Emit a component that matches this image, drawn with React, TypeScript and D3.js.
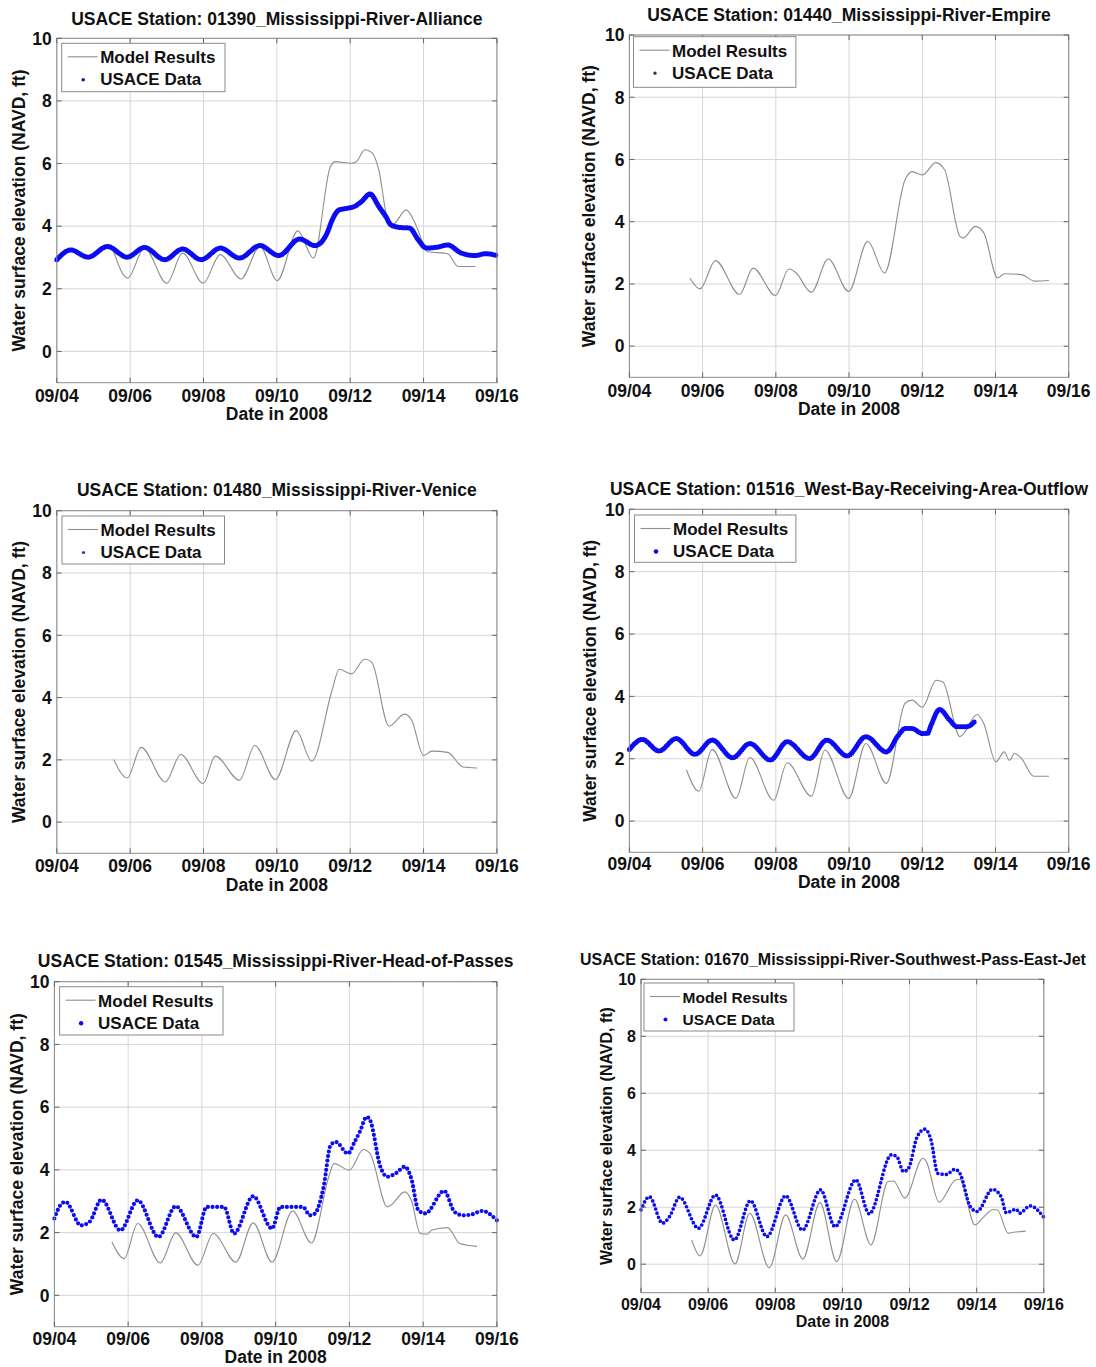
import React from 'react';
import * as d3 from 'd3';

type Pt = [number, number]; // [days after 09/04 00:00, water level ft NAVD]

// 01390 Alliance
const allianceModel: Pt[] = [
  [1.55, 3.19], [1.93, 2.34], [2.39, 3.3], [3.0, 2.18], [3.43, 3.14], [3.99, 2.18], [4.46, 3.09],
  [5.02, 2.31], [5.54, 3.35], [6.01, 2.26], [6.57, 3.85], [7.0, 2.98], [7.46, 5.9], [7.6, 6.06],
  [8.03, 6.01], [8.17, 6.06], [8.4, 6.44], [8.59, 6.35], [8.78, 5.8], [9.01, 4.26], [9.15, 4.04],
  [9.53, 4.52], [9.81, 3.99], [10.1, 3.19], [10.66, 3.12], [10.94, 2.71], [11.41, 2.71],
];
const allianceObs: Pt[] = [
  [0, 2.93], [0.38, 3.24], [0.85, 3.01], [1.38, 3.35], [1.92, 3.01], [2.39, 3.32], [2.94, 2.93],
  [3.43, 3.27], [3.94, 2.93], [4.46, 3.3], [4.98, 2.98], [5.54, 3.38], [6.05, 3.06], [6.62, 3.59],
  [7.04, 3.38], [7.37, 3.78], [7.51, 4.2], [7.7, 4.52], [7.93, 4.57], [8.12, 4.63], [8.31, 4.79],
  [8.54, 5.03], [8.78, 4.63], [8.97, 4.31], [9.11, 4.04], [9.34, 3.96], [9.62, 3.94], [9.86, 3.56],
  [10.08, 3.3], [10.38, 3.33], [10.66, 3.4], [11.03, 3.14], [11.41, 3.06], [11.69, 3.12], [12, 3.06],
];

// 01440 Empire
const empireModel: Pt[] = [
  [1.65, 2.19], [1.93, 1.84], [2.35, 2.75], [3.01, 1.66], [3.38, 2.51], [3.99, 1.63], [4.36, 2.48],
  [4.55, 2.36], [4.97, 1.73], [5.43, 2.8], [5.99, 1.76], [6.51, 3.37], [6.97, 2.35], [7.53, 5.35],
  [7.72, 5.61], [8.0, 5.5], [8.37, 5.9], [8.61, 5.67], [9.03, 3.53], [9.12, 3.48], [9.45, 3.85],
  [9.68, 3.64], [10.06, 2.19], [10.24, 2.33], [10.71, 2.3], [11.08, 2.09], [11.46, 2.11],
];

// 01480 Venice
const veniceModel: Pt[] = [
  [1.55, 2.01], [1.92, 1.42], [2.3, 2.4], [2.96, 1.29], [3.38, 2.17], [3.99, 1.24], [4.32, 2.12],
  [4.98, 1.35], [5.4, 2.46], [5.96, 1.37], [6.53, 2.94], [6.95, 1.96], [7.51, 4.25], [7.7, 4.91],
  [8.03, 4.76], [8.4, 5.24], [8.59, 5.13], [9.06, 3.08], [9.48, 3.47], [9.67, 3.29], [10.0, 2.14],
  [10.23, 2.28], [10.66, 2.24], [11.08, 1.77], [11.46, 1.74],
];

// 01516 West Bay Receiving Area Outflow
const westBayModel: Pt[] = [
  [1.56, 1.64], [1.89, 0.96], [2.26, 2.3], [2.91, 0.73], [3.29, 2.04], [3.94, 0.67], [4.31, 1.87],
  [4.97, 0.8], [5.34, 2.28], [5.99, 0.73], [6.46, 2.49], [7.02, 1.21], [7.53, 3.78], [7.72, 3.88],
  [8.0, 3.65], [8.38, 4.52], [8.56, 4.47], [9.03, 2.71], [9.5, 3.42], [9.68, 3.13], [10.01, 1.9],
  [10.24, 2.22], [10.38, 1.95], [10.52, 2.17], [10.71, 2.01], [11.04, 1.44], [11.46, 1.44],
];
const westBayObs: Pt[] = [
  [0, 2.3], [0.35, 2.62], [0.81, 2.25], [1.28, 2.65], [1.79, 2.14], [2.26, 2.6], [2.82, 2.03],
  [3.29, 2.49], [3.85, 1.96], [4.31, 2.55], [4.92, 2.01], [5.39, 2.6], [5.95, 2.09], [6.46, 2.71],
  [7.02, 2.22], [7.35, 2.76], [7.53, 2.97], [7.72, 2.97], [8.0, 2.81], [8.14, 2.81], [8.24, 3.08],
  [8.47, 3.58], [8.75, 3.24], [8.94, 3.03], [9.22, 3.03], [9.45, 3.22],
];

// 01545 Head of Passes
const headPassesModel: Pt[] = [
  [1.56, 1.7], [1.89, 1.17], [2.26, 2.29], [2.87, 1.03], [3.29, 1.99], [3.89, 0.96], [4.31, 1.97],
  [4.92, 1.06], [5.39, 2.31], [5.9, 1.06], [6.46, 2.69], [6.97, 1.67], [7.44, 3.78], [7.58, 4.2],
  [8.0, 3.99], [8.38, 4.65], [8.56, 4.52], [9.03, 2.82], [9.12, 2.87], [9.5, 3.3], [9.68, 3.03],
  [9.92, 1.97], [10.1, 1.95], [10.24, 2.08], [10.66, 2.16], [11.0, 1.65], [11.46, 1.56],
];
const headPassesObs: Pt[] = [
  [0, 2.45], [0.16, 2.87], [0.3, 2.98], [0.72, 2.23], [0.95, 2.34], [1.28, 3.05], [1.79, 2.07],
  [2.26, 3.03], [2.82, 1.86], [3.29, 2.84], [3.85, 1.86], [4.13, 2.82], [4.6, 2.82], [4.87, 1.97],
  [5.39, 3.16], [5.9, 2.13], [6.13, 2.82], [6.74, 2.82], [6.93, 2.55], [7.06, 2.6], [7.3, 3.46],
  [7.49, 4.79], [7.63, 4.89], [7.96, 4.52], [8.14, 4.89], [8.28, 5.21], [8.47, 5.69], [8.56, 5.59],
  [8.84, 4.1], [9.03, 3.78], [9.27, 3.9], [9.5, 4.1], [9.68, 3.72], [9.87, 2.71], [10.06, 2.61],
  [10.57, 3.33], [10.85, 2.66], [11.08, 2.55], [11.32, 2.58], [11.6, 2.69], [12, 2.39],
];

// 01670 Southwest Pass East Jetty
const swPassModel: Pt[] = [
  [1.51, 0.85], [1.76, 0.29], [2.22, 2.08], [2.8, 0.01], [3.24, 1.79], [3.82, -0.12], [4.31, 1.73],
  [4.82, 0.18], [5.33, 2.16], [5.83, 0.09], [6.36, 2.29], [6.85, 0.68], [7.36, 2.9], [7.52, 2.92],
  [7.86, 2.32], [8.4, 3.72], [8.5, 3.6], [8.88, 2.18], [9.35, 2.94], [9.5, 2.98], [9.95, 1.38],
  [10.22, 1.67], [10.5, 1.92], [10.62, 1.9], [10.94, 1.09], [11.1, 1.12], [11.46, 1.16],
];
const swPassObs: Pt[] = [
  [0, 1.91], [0.25, 2.37], [0.64, 1.44], [0.85, 1.67], [1.15, 2.35], [1.71, 1.26], [2.22, 2.43],
  [2.78, 0.85], [3.26, 2.23], [3.75, 0.97], [4.31, 2.4], [4.81, 1.2], [5.35, 2.61], [5.78, 1.32],
  [6.4, 2.96], [6.8, 1.77], [7.46, 3.84], [7.62, 3.78], [7.82, 3.25], [7.97, 3.37], [8.23, 4.48],
  [8.46, 4.74], [8.64, 4.36], [8.84, 3.19], [9.09, 3.15], [9.35, 3.33], [9.5, 3.19], [9.81, 2.02],
  [10.01, 1.85], [10.47, 2.63], [10.73, 2.37], [10.88, 1.81], [11.18, 1.93], [11.28, 1.79],
  [11.59, 2.05], [12, 1.65],
];

const stationTitles = [
  'USACE Station: 01390_Mississippi-River-Alliance',
  'USACE Station: 01440_Mississippi-River-Empire',
  'USACE Station: 01480_Mississippi-River-Venice',
  'USACE Station: 01516_West-Bay-Receiving-Area-Outflow',
  'USACE Station: 01545_Mississippi-River-Head-of-Passes',
  'USACE Station: 01670_Mississippi-River-Southwest-Pass-East-Jet',
];
const legendLabels = ['Model Results', 'USACE Data'];
const xTitle = 'Date in 2008';
const yTitle = 'Water surface elevation (NAVD, ft)';
const yTickValues = [0, 2, 4, 6, 8, 10];
const startDate = new Date(2008, 8, 4);
const endDate = new Date(2008, 8, 16);

const FONT = '"Liberation Sans", Arial, Helvetica, sans-serif';
const BLUE = '#0c0cf2';
const GRAY = '#8e8e8e';

interface Panel {
  title: string;
  model: Pt[];
  obs: Pt[] | null;
  left: number; right: number; top: number; bottom: number;
  titleY: number; titleX?: number;
  tickY: number; xLabelY: number; yLabelX: number;
  legend: [number, number, number, number];
  font: number; legendFont: number;
  dot: { w: number; gap: number };
  legendDot: string; legendDotR: number;
}

const panels: Panel[] = [
  { title: stationTitles[0], model: allianceModel, obs: allianceObs,
    left: 56.8, right: 496.9, top: 38.3, bottom: 382.7, titleY: 25, tickY: 402, xLabelY: 420, yLabelX: 25,
    legend: [61.7, 43.3, 163.3, 48.4], font: 17.5, legendFont: 17, dot: { w: 5, gap: 1.4 },
    legendDot: '#1b1b8a', legendDotR: 1.8 },
  { title: stationTitles[1], model: empireModel, obs: null,
    left: 629.4, right: 1068.7, top: 35, bottom: 377.3, titleY: 20.7, tickY: 396.7, xLabelY: 415, yLabelX: 595,
    legend: [633.5, 36.7, 162.4, 50.6], font: 17.5, legendFont: 17, dot: { w: 4, gap: 4 },
    legendDot: '#333', legendDotR: 1.6 },
  { title: stationTitles[2], model: veniceModel, obs: null,
    left: 56.8, right: 496.9, top: 510.7, bottom: 853.3, titleY: 496, tickY: 872.3, xLabelY: 890.7, yLabelX: 25,
    legend: [62, 516, 162.5, 48], font: 17.5, legendFont: 17, dot: { w: 4, gap: 4 },
    legendDot: '#3030c0', legendDotR: 1.6 },
  { title: stationTitles[3], model: westBayModel, obs: westBayObs,
    left: 629.4, right: 1068.7, top: 509.3, bottom: 852.3, titleY: 495, tickY: 870, xLabelY: 888.3, yLabelX: 596,
    legend: [634.5, 515, 161.4, 47.3], font: 17.5, legendFont: 17, dot: { w: 5, gap: 2.2 },
    legendDot: BLUE, legendDotR: 2.3 },
  { title: stationTitles[4], model: headPassesModel, obs: headPassesObs,
    left: 54.4, right: 496.9, top: 981.7, bottom: 1326.7, titleY: 966.7, tickY: 1344.5, xLabelY: 1363.2, yLabelX: 23,
    legend: [59.6, 986.7, 163.4, 48.3], font: 17.5, legendFont: 17, dot: { w: 4.2, gap: 4.6 },
    legendDot: BLUE, legendDotR: 2.2 },
  { title: stationTitles[5], model: swPassModel, obs: swPassObs,
    left: 641, right: 1043.8, top: 979.3, bottom: 1292.7, titleY: 965, titleX: 580, tickY: 1310, xLabelY: 1326.7, yLabelX: 612,
    legend: [644, 983, 150, 48], font: 16, legendFont: 15.5, dot: { w: 3.7, gap: 4.3 },
    legendDot: BLUE, legendDotR: 2 },
];

const dayToDate = (d: number) => d3.timeMinute.offset(startDate, Math.round(d * 1440));
const fmt = d3.timeFormat('%m/%d');

const StationPanel: React.FC<{ p: Panel }> = ({ p }) => {
  const x = d3.scaleTime().domain([startDate, endDate]).range([p.left, p.right]);
  const y = d3.scaleLinear().domain([-1, 10]).range([p.bottom, p.top]);
  const xTicks = d3.timeDay.range(startDate, d3.timeDay.offset(endDate, 1), 2);
  const line = d3.line<Pt>()
    .x(d => x(dayToDate(d[0])))
    .y(d => y(d[1]))
    .curve(d3.curveMonotoneX);
  const cx = (p.left + p.right) / 2;
  const cy = (p.top + p.bottom) / 2;
  const [lx, ly, lw, lh] = p.legend;
  const tickLen = 5;

  return (
    <g fontFamily={FONT} fontWeight="bold" fill="#111">
      {/* grid */}
      {xTicks.map((t, i) => (
        <line key={'gx' + i} x1={x(t)} x2={x(t)} y1={p.top} y2={p.bottom} stroke="#d6d6d6" strokeWidth={1} />
      ))}
      {yTickValues.map(v => (
        <line key={'gy' + v} x1={p.left} x2={p.right} y1={y(v)} y2={y(v)} stroke="#d6d6d6" strokeWidth={1} />
      ))}

      {/* series */}
      <path d={line(p.model) || ''} fill="none" stroke={GRAY} strokeWidth={1.1} />
      {p.obs && (
        <path d={line(p.obs) || ''} fill="none" stroke={BLUE} strokeWidth={p.dot.w}
          strokeLinecap="round" strokeDasharray={`0 ${p.dot.gap}`} />
      )}

      {/* box and inward ticks */}
      <rect x={p.left} y={p.top} width={p.right - p.left} height={p.bottom - p.top} fill="none" stroke="#8a8a8a" strokeWidth={1} />
      {xTicks.map((t, i) => (
        <g key={'tx' + i} stroke="#666">
          <line x1={x(t)} x2={x(t)} y1={p.bottom} y2={p.bottom - tickLen} />
          <line x1={x(t)} x2={x(t)} y1={p.top} y2={p.top + tickLen} />
        </g>
      ))}
      {yTickValues.map(v => (
        <g key={'ty' + v} stroke="#666">
          <line x1={p.left} x2={p.left + tickLen} y1={y(v)} y2={y(v)} />
          <line x1={p.right} x2={p.right - tickLen} y1={y(v)} y2={y(v)} />
        </g>
      ))}

      {/* tick labels */}
      {xTicks.map((t, i) => (
        <text key={'lx' + i} x={x(t)} y={p.tickY} textAnchor="middle" fontSize={p.font}>{fmt(t)}</text>
      ))}
      {yTickValues.map(v => (
        <text key={'ly' + v} x={p.left - 5} y={y(v)} dy="0.36em" textAnchor="end" fontSize={p.font}>{v}</text>
      ))}

      {/* titles */}
      <text x={p.titleX ?? cx} y={p.titleY} textAnchor={p.titleX ? 'start' : 'middle'} fontSize={p.font}>{p.title}</text>
      <text x={cx} y={p.xLabelY} textAnchor="middle" fontSize={p.font}>{xTitle}</text>
      <text transform={`translate(${p.yLabelX},${cy}) rotate(-90)`} textAnchor="middle" fontSize={p.font}>{yTitle}</text>

      {/* legend */}
      <rect x={lx} y={ly} width={lw} height={lh} fill="white" stroke="#8a8a8a" strokeWidth={1} />
      <line x1={lx + 6} x2={lx + 36} y1={ly + 13.5} y2={ly + 13.5} stroke={GRAY} strokeWidth={1.1} />
      <circle cx={lx + 21.5} cy={ly + 36.5} r={p.legendDotR} fill={p.legendDot} stroke="none" />
      <text x={lx + 38.5} y={ly + 20} fontSize={p.legendFont}>{legendLabels[0]}</text>
      <text x={lx + 38.5} y={ly + 42} fontSize={p.legendFont}>{legendLabels[1]}</text>
    </g>
  );
};

export default function App() {
  return (
    <div style={{ position: 'absolute', left: 0, top: 0 }}>
      <svg width={1096} height={1367} style={{ display: 'block', background: 'white' }}>
        {panels.map((p, i) => <StationPanel key={i} p={p} />)}
      </svg>
    </div>
  );
}
